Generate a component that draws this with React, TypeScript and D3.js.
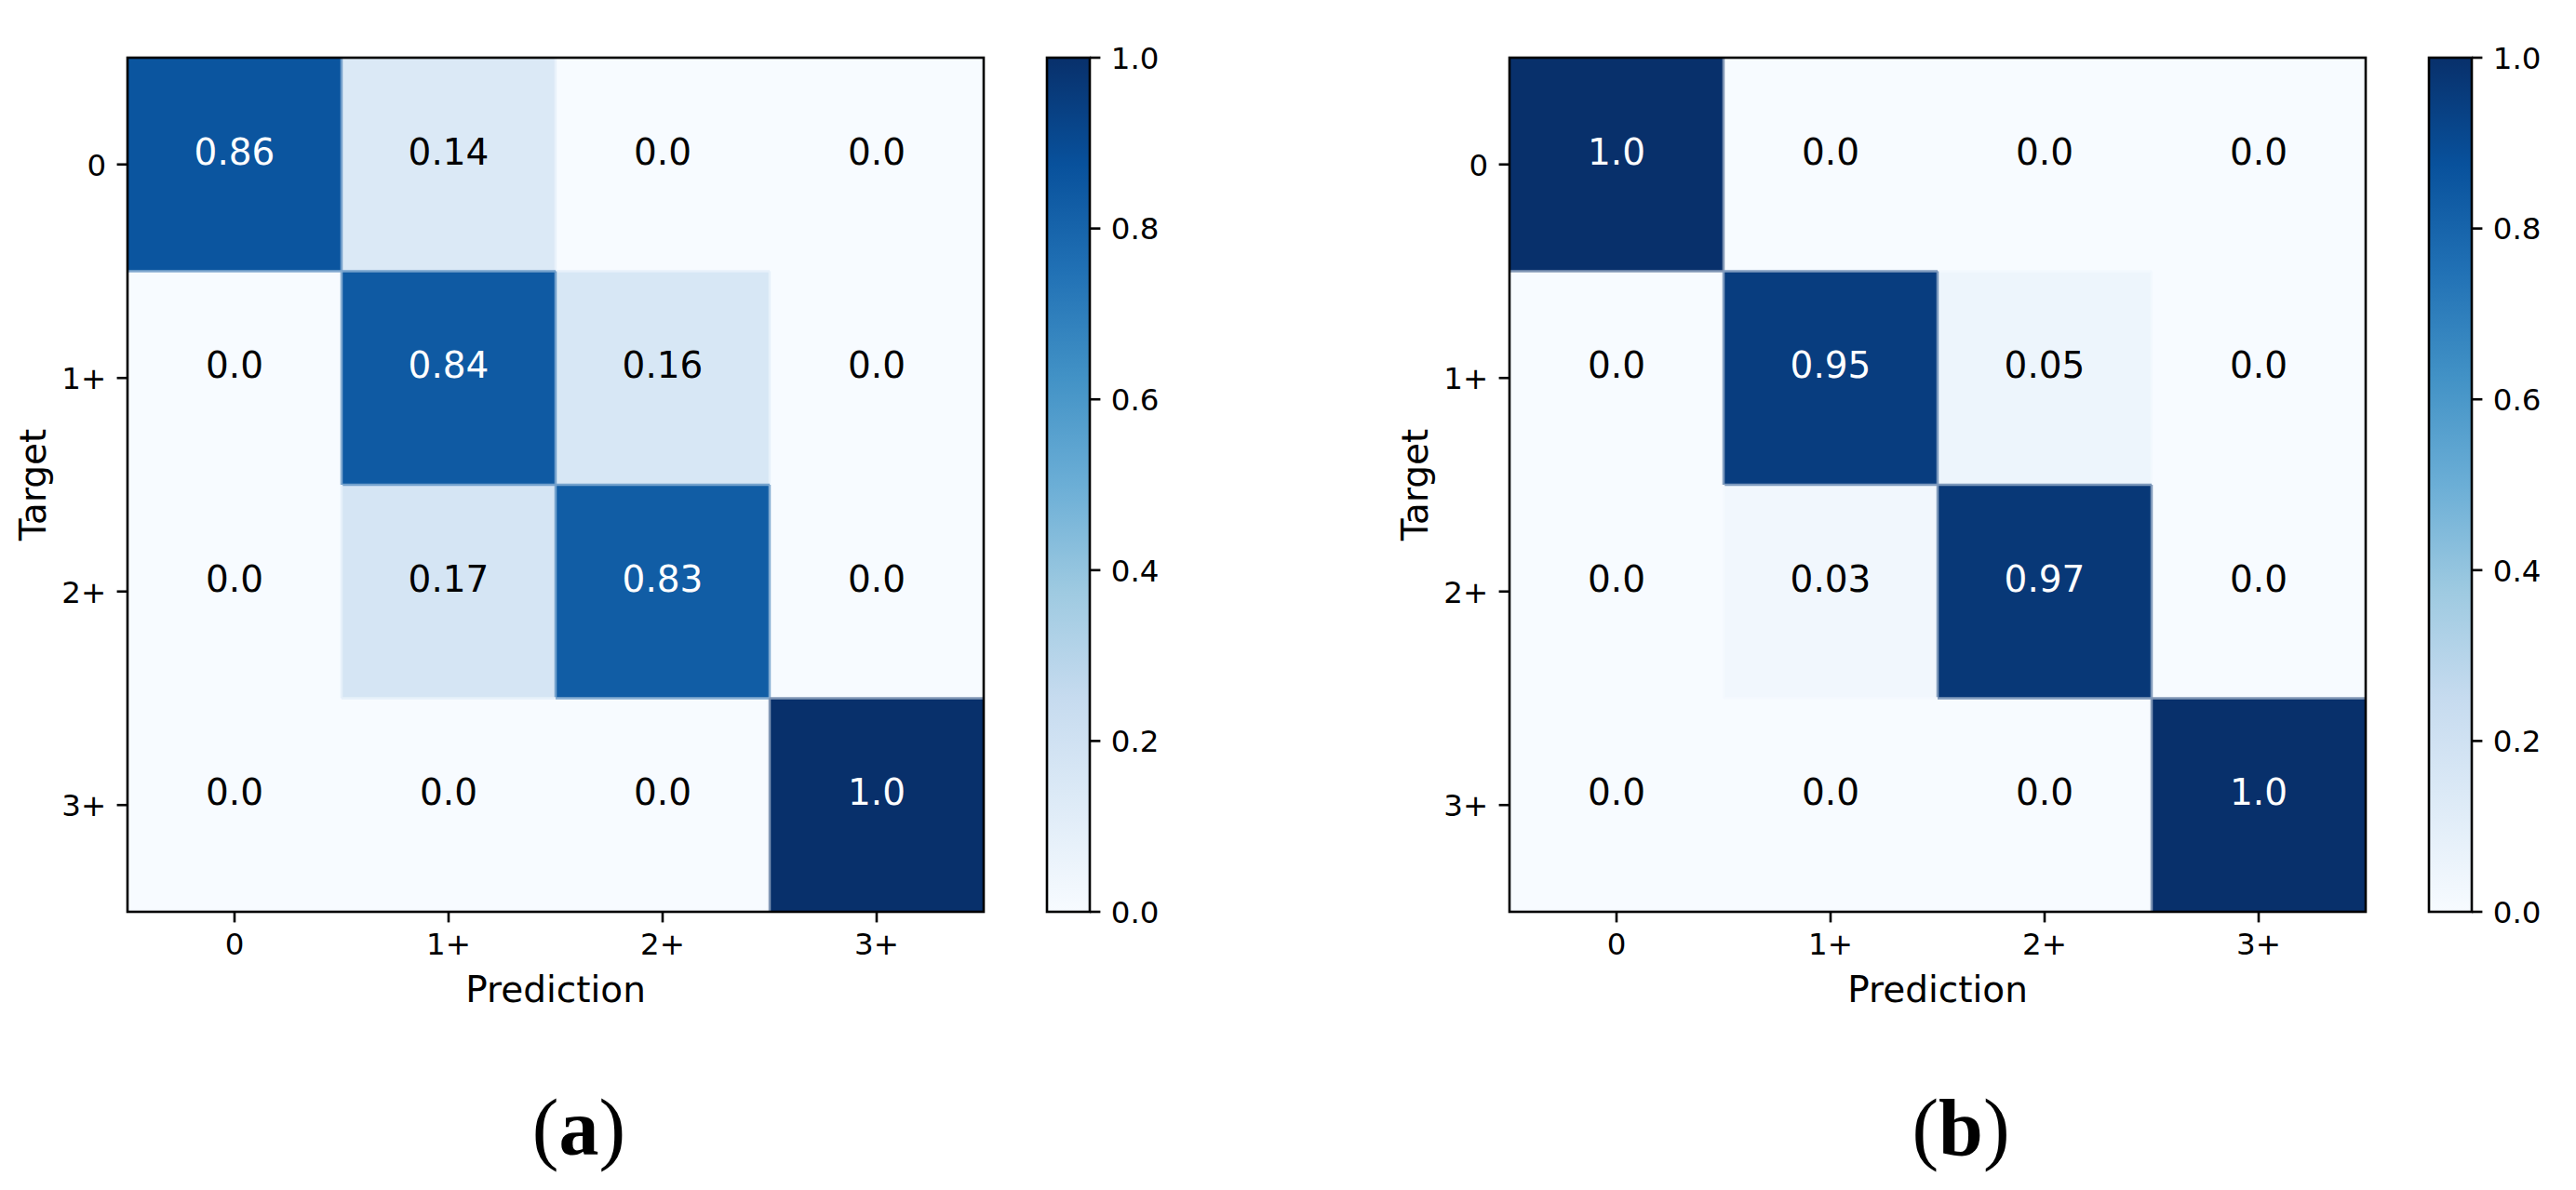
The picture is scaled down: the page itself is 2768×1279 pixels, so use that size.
import React from "react";
import * as d3 from "d3";

// ---- data ----
const categories = ["0", "1+", "2+", "3+"];
const matrixA = [
  [0.86, 0.14, 0.0, 0.0],
  [0.0, 0.84, 0.16, 0.0],
  [0.0, 0.17, 0.83, 0.0],
  [0.0, 0.0, 0.0, 1.0],
];
const matrixB = [
  [1.0, 0.0, 0.0, 0.0],
  [0.0, 0.95, 0.05, 0.0],
  [0.0, 0.03, 0.97, 0.0],
  [0.0, 0.0, 0.0, 1.0],
];
const colorbarTicks = [0, 0.2, 0.4, 0.6, 0.8, 1.0];
const bluesStops = ["#f7fbff", "#deebf7", "#c6dbef", "#9ecae1", "#6baed6", "#4292c6", "#2171b5", "#08519c", "#08306b"];
const panelNames = ["a", "b"];
const xTitle = "Prediction";
const yTitle = "Target";

// ---- layout ----
const W = 2768;
const H = 1279;
const Y0 = 62;
const PW = 920;
const PH = 918;
const LW = 2.6;
const TICK = 11.4;
const PAD = 11.4;
const TICKFONT = 32.5;
const LABELFONT = 39;
const ANNOFONT = 39;
const FONT = "'DejaVu Sans', sans-serif";
const CB_GAP = 68;
const CB_W = 46;

const color = d3
  .scaleLinear<string>()
  .domain(bluesStops.map((_, i) => i / (bluesStops.length - 1)))
  .range(bluesStops)
  .interpolate(d3.interpolateRgb)
  .clamp(true);

function fmt(v: number) {
  return Number.isInteger(v) ? v.toFixed(1) : String(v);
}

function Panel({ matrix, x0, id, name }: { matrix: number[][]; x0: number; id: string; name: string }) {
  const x = d3.scaleBand<string>().domain(categories).range([x0, x0 + PW]);
  const y = d3.scaleBand<string>().domain(categories).range([Y0, Y0 + PH]);
  const cb = d3.scaleLinear().domain([0, 1]).range([Y0 + PH, Y0]);
  const bw = x.bandwidth();
  const bh = y.bandwidth();
  const cbX = x0 + PW + CB_GAP;

  const edges: { x1: number; y1: number; x2: number; y2: number; c: string }[] = [];
  matrix.forEach((row, r) =>
    row.forEach((v, c) => {
      if (c < row.length - 1 && row[c + 1] !== v) {
        const xx = x(categories[c + 1])!;
        edges.push({ x1: xx, y1: y(categories[r])!, x2: xx, y2: y(categories[r])! + bh, c: d3.interpolateRgb(color(v), color(row[c + 1]))(0.5) });
      }
      if (r < matrix.length - 1 && matrix[r + 1][c] !== v) {
        const yy = y(categories[r + 1])!;
        edges.push({ x1: x(categories[c])!, y1: yy, x2: x(categories[c])! + bw, y2: yy, c: d3.interpolateRgb(color(v), color(matrix[r + 1][c]))(0.5) });
      }
    })
  );

  const cx = x0 + PW / 2;
  return (
    <g fontFamily={FONT}>
      {matrix.map((row, r) =>
        row.map((v, c) => (
          <rect key={`c${r}-${c}`} x={x(categories[c])} y={y(categories[r])} width={bw + 0.5} height={bh + 0.5} fill={color(v)} />
        ))
      )}
      {edges.map((e, i) => (
        <line key={`e${i}`} x1={e.x1} y1={e.y1} x2={e.x2} y2={e.y2} stroke={e.c} strokeWidth={2.5} />
      ))}
      {matrix.map((row, r) =>
        row.map((v, c) => (
          <text
            key={`t${r}-${c}`}
            x={x(categories[c])! + bw / 2}
            y={y(categories[r])! + bh / 2}
            textAnchor="middle"
            fontSize={ANNOFONT}
            fill={v > 0.5 ? "#ffffff" : "#000000"}
          >
            {fmt(v)}
          </text>
        ))
      )}
      <rect x={x0} y={Y0} width={PW} height={PH} fill="none" stroke="#000" strokeWidth={LW} />
      {categories.map((cat) => (
        <g key={`xt${cat}`}>
          <line x1={x(cat)! + bw / 2} x2={x(cat)! + bw / 2} y1={Y0 + PH} y2={Y0 + PH + TICK} stroke="#000" strokeWidth={LW} />
          <text x={x(cat)! + bw / 2} y={Y0 + PH + TICK + PAD + 0.729 * TICKFONT} textAnchor="middle" fontSize={TICKFONT}>
            {cat}
          </text>
        </g>
      ))}
      {categories.map((cat) => (
        <g key={`yt${cat}`}>
          <line x1={x0 - TICK} x2={x0} y1={y(cat)! + bh / 2} y2={y(cat)! + bh / 2} stroke="#000" strokeWidth={LW} />
          <text x={x0 - TICK - PAD} y={y(cat)! + bh / 2 + 0.365 * TICKFONT} textAnchor="end" fontSize={TICKFONT}>
            {cat}
          </text>
        </g>
      ))}
      <text x={cx} y={1077} textAnchor="middle" fontSize={LABELFONT}>
        {xTitle}
      </text>
      <text transform={`translate(${x0 - 88},${Y0 + PH / 2}) rotate(-90)`} textAnchor="middle" fontSize={LABELFONT}>
        {yTitle}
      </text>
      <defs>
        <linearGradient id={`grad-${id}`} x1="0" y1="1" x2="0" y2="0">
          {bluesStops.map((s, i) => (
            <stop key={s} offset={i / (bluesStops.length - 1)} stopColor={s} />
          ))}
        </linearGradient>
      </defs>
      <rect x={cbX} y={cb(1)} width={CB_W} height={cb(0) - cb(1)} fill={`url(#grad-${id})`} stroke="#000" strokeWidth={LW} />
      {colorbarTicks.map((t) => (
        <g key={`cb${t}`}>
          <line x1={cbX + CB_W} x2={cbX + CB_W + TICK} y1={cb(t)} y2={cb(t)} stroke="#000" strokeWidth={LW} />
          <text x={cbX + CB_W + TICK + PAD} y={cb(t) + 0.365 * TICKFONT} fontSize={TICKFONT}>
            {t.toFixed(1)}
          </text>
        </g>
      ))}
      <text x={cx + 25} y={1241} textAnchor="middle" fontSize={86} fontFamily="'Liberation Serif', 'DejaVu Serif', serif">
        (<tspan fontWeight="bold">{name}</tspan>)
      </text>
    </g>
  );
}

export default function App() {
  return (
    <div style={{ position: "absolute", left: 0, top: 0, width: W, height: H, background: "#fff" }}>
      <svg width={W} height={H} viewBox={`0 0 ${W} ${H}`} style={{ display: "block" }}>
        <rect width={W} height={H} fill="#fff" />
        <Panel matrix={matrixA} x0={137} id="a" name={panelNames[0]} />
        <Panel matrix={matrixB} x0={1622} id="b" name={panelNames[1]} />
      </svg>
    </div>
  );
}
